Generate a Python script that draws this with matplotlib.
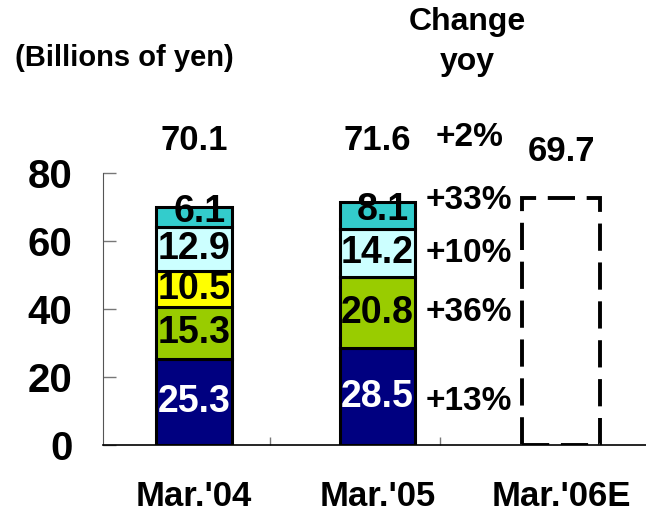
import numpy as np
import matplotlib.pyplot as plt

plt.rcParams['font.family'] = ['Liberation Sans', 'DejaVu Sans']
plt.rcParams['font.weight'] = 'bold'

# data
periods = ["Mar.'04", "Mar.'05", "Mar.'06E"]
seg_navy = [25.3, 28.5]
seg_green = [15.3, 20.8]
seg_yellow = [10.5, 0.0]
seg_lightcyan = [12.9, 14.2]
seg_teal = [6.1, 8.1]
totals = [70.1, 71.6, 69.7]
forecast_box = 72.6          # height of dashed outline as drawn
yoy_labels = ["+13%", "+36%", None, "+10%", "+33%"]
yoy_total = "+2%"

segments = [seg_navy, seg_green, seg_yellow, seg_lightcyan, seg_teal]
colors = ["#000080", "#99CC00", "#FFFF00", "#CCFFFF", "#33CCCC"]
text_colors = ["white", "black", "black", "black", "black"]

fig = plt.figure(figsize=(6.46, 5.14), dpi=100)
ax = fig.add_axes([0.1594, 0.1342, 0.8406, 0.5292])

x = np.arange(2)
width = 0.41
bottom = np.zeros(2)
for k, (vals, col, tc) in enumerate(zip(segments, colors, text_colors)):
    vals = np.array(vals)
    ax.bar(x, vals, width, bottom=bottom, color=col, edgecolor="black",
           linewidth=2.2, zorder=2)
    for i in range(2):
        if vals[i] > 0:
            dx = 0.03 if k == 4 else 0
            dy = 1.5 if k == 4 else 0
            ax.text(x[i] + dx, bottom[i] + vals[i] / 2 + dy,
                    f"{vals[i]:.1f}", ha="center", va="center",
                    fontsize=27, color=tc, zorder=3)
    # yoy change next to Mar.'05 bar
    if yoy_labels[k]:
        yc = bottom[1] + vals[1] / 2
        if k == 4:
            yc += 4.5
        elif k == 0:
            yc -= 1.5
        ax.text(x[1] + 0.5, yc, yoy_labels[k], ha="center", va="center",
                fontsize=24)
    bottom += vals

# forecast as dashed outline
ax.bar(2, forecast_box, 0.42, fill=False, edgecolor="black", linewidth=2.8,
       linestyle=(0, (7, 3)), zorder=2)

# totals above bars
ax.text(0, 89.7, f"{totals[0]:.1f}", ha="center", va="center", fontsize=25, clip_on=False)
ax.text(1, 89.7, f"{totals[1]:.1f}", ha="center", va="center", fontsize=25, clip_on=False)
ax.text(1.5, 90.3, yoy_total, ha="center", va="center", fontsize=24, clip_on=False)
ax.text(2, 86.2, f"{totals[2]:.1f}", ha="center", va="center", fontsize=25, clip_on=False)

ax.set_xlim(-0.496, 2.463)
ax.set_ylim(0, 80)
ax.set_yticks([0, 20, 40, 60, 80])
ax.tick_params(axis="y", direction="in", length=9.5, width=1, color="#777777",
               labelsize=29, pad=22)
ax.set_xticks(x.tolist() + [2])
ax.set_xticklabels(periods)
ax.tick_params(axis="x", length=0, labelsize=25, pad=25)
ax.set_xticks([0.415, 1.34], minor=True)
ax.tick_params(axis="x", which="minor", direction="in", length=6, width=1,
               color="#777777")
ax.spines["top"].set_visible(False)
ax.spines["right"].set_visible(False)
ax.spines["left"].set_color("#555555")
ax.spines["bottom"].set_linewidth(1.2)

fig.text(124 / 646, 1 - 58 / 514, "(Billions of yen)", ha="center", va="center", fontsize=21)
fig.text(467 / 646, 1 - 22 / 514, "Change", ha="center", va="center", fontsize=23)
fig.text(467 / 646, 1 - 62 / 514, "yoy", ha="center", va="center", fontsize=23)

plt.savefig("out.png", dpi=100)
